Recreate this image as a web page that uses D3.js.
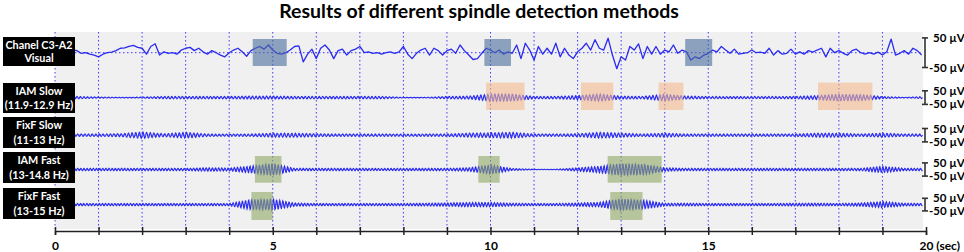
<!DOCTYPE html>
<html>
<head>
<meta charset="utf-8">
<script src="https://cdn.jsdelivr.net/npm/d3@7"></script>
<style>
  body { margin: 0; background: #fff; }
  text { font-family: Lato, "Open Sans", sans-serif; font-weight: bold; }
</style>
</head>
<body>
<div id="chart"></div>
<script>
// row labels (two lines each)
const rowLabels = [
    ["Chanel C3-A2", "Visual"],
    ["IAM Slow", "(11.9-12.9 Hz)"],
    ["FixF Slow", "(11-13 Hz)"],
    ["IAM Fast", "(13-14.8 Hz)"],
    ["FixF Fast", "(13-15 Hz)"]
];
const tickValues = d3.range(0, 21);
const tickLabels = { 0: "0", 5: "5", 10: "10", 15: "15", 20: "20 (sec)" };

// raw EEG, µV, one sample every 0.1 s
const rawStep = 0.1;
const rawEEG = [
    5, 8, 3, 6, 10, 7, -2, 0, -5, -8,
    -14, -5, 0, 2, 7, 15, 16, 21, 25, 18,
    15, -5, 21, 30, -8, 3, -2, 0, -5, 9,
    15, 18, 7, 15, 3, -5, 7, 0, -8, -14,
    0, 9, 15, 3, -12, 7, 15, 21, 12, 26,
    9, -2, -5, 0, 9, 21, 23, -31, -5, 12,
    -20, 15, 26, 9, -20, 7, 12, -8, 7, 12,
    21, 0, 3, -2, 0, -5, 0, 3, -2, 3,
    21, -5, -20, -2, 9, 15, -8, 15, 7, -8,
    7, 12, -2, 26, 7, -8, -23, -20, -2, 15,
    9, 0, 9, -5, 3, -2, 26, -20, 32, 9,
    -25, 21, -5, 15, -5, 32, -14, 15, -8, -20,
    3, 15, 32, 9, 44, 15, 9, 49, -8, -54,
    -14, -25, 21, 9, 30, -20, 21, -5, 21, -5,
    9, 3, 26, -2, 9, 3, -25, -14, -20, -8,
    -2, 9, 3, 21, 9, -2, 12, -5, -2, 0,
    9, 0, 2, -2, 15, -8, 7, -5, -2, 12,
    -5, 3, -5, 7, 2, 9, 15, -14, 15, 0,
    7, -2, -8, 7, 12, 0, -5, 0, -5, 2,
    -8, 3, 46, -8, -2, 7, -5, 15, 7, -8
];

// spindle-band envelopes, µV amplitude every 0.5 s
const envStep = 0.5;
const iamSlowEnv = [9, 9, 4, 2, 4, 9, 9, 9, 9, 11, 11, 9, 9, 9, 9, 9, 2, 2, 9, 11, 26, 26, 9, 9, 15, 26, 11, 9, 24, 11, 8, 8, 8, 8, 9, 15, 24, 22, 8, 2, 8];
const fixfSlowEnv = [9, 9, 9, 11, 24, 11, 22, 9, 8, 9, 15, 15, 11, 9, 9, 9, 8, 9, 9, 15, 18, 22, 9, 9, 11, 22, 15, 9, 15, 9, 9, 9, 9, 9, 9, 15, 15, 9, 15, 9, 9];
const iamFastEnv = [9, 9, 9, 9, 9, 9, 9, 13, 11, 26, 46, 9, 9, 9, 9, 8, 9, 9, 9, 13, 34, 8, 2, 2, 13, 24, 46, 40, 13, 9, 9, 9, 9, 9, 9, 9, 9, 9, 24, 9, 9];
const fixfFastEnv = [9, 9, 9, 9, 9, 9, 9, 9, 9, 40, 44, 13, 9, 9, 9, 9, 9, 11, 13, 17, 17, 11, 9, 9, 13, 18, 46, 36, 11, 11, 9, 9, 9, 9, 11, 11, 9, 13, 24, 11, 9];
const bandFreq = [12.4, 12.0, 13.9, 14.0];

// detected spindles, [start, end] in seconds
const visualMarks = [[4.54, 5.32], [9.86, 10.47], [14.47, 15.09]];
const iamSlowMarks = [[9.90, 10.78], [12.08, 12.82], [13.86, 14.43], [17.52, 18.77]];
const iamFastMarks = [[4.59, 5.20], [9.72, 10.21], [12.69, 13.93]];
const fixfFastMarks = [[4.51, 5.00], [12.75, 13.49]];

const width = 964, height = 252;
const plotLeft = 55, plotRight = 926, plotTop = 32, axisY = 231;
const baselines = [52.7, 97.6, 135.2, 169.5, 204.6];
const halfBar = [14.8, 6.8, 6.7, 6.6, 6.3];

const svg = d3.select("#chart")
    .append("svg")
    .attr("width", width)
    .attr("height", height);

const x = d3.scaleLinear().domain([0, 20]).range([plotLeft, plotRight]);
const ys = baselines.map((b, i) => d3.scaleLinear().domain([-50, 50]).range([b + halfBar[i], b - halfBar[i]]));

svg.append("text")
    .attr("x", 479)
    .attr("y", 18)
    .attr("text-anchor", "middle")
    .style("font-size", "19.5px")
    .text("Results of different spindle detection methods");

// background
svg.append("rect")
    .attr("x", plotLeft)
    .attr("y", plotTop)
    .attr("width", 923 - plotLeft)
    .attr("height", axisY - 2 - plotTop)
    .attr("fill", "#f0f0f0");

// dotted grid
svg.append("g")
    .selectAll("line")
    .data(d3.range(0, 20))
    .join("line")
    .attr("x1", d => x(d))
    .attr("x2", d => x(d))
    .attr("y1", plotTop)
    .attr("y2", axisY - 2)
    .attr("stroke", "#3b3bff")
    .attr("stroke-width", 1)
    .attr("stroke-dasharray", "1.5,2.5");

svg.append("g")
    .selectAll("line")
    .data(baselines)
    .join("line")
    .attr("x1", plotLeft)
    .attr("x2", 923)
    .attr("y1", d => d)
    .attr("y2", d => d)
    .attr("stroke", "#3b3bff")
    .attr("stroke-width", 1)
    .attr("stroke-dasharray", "1.5,2.5");

// traces
const traceColor = "#2b2bf0";

svg.append("path")
    .datum(rawEEG)
    .attr("fill", "none")
    .attr("stroke", traceColor)
    .attr("stroke-width", 1.3)
    .attr("stroke-linejoin", "round")
    .attr("d", d3.line().x((d, i) => x(i * rawStep)).y(d => ys[0](d)));

function envAt(env, t) {
    const k = Math.min(Math.floor(t / envStep), env.length - 2);
    const f = t / envStep - k;
    return env[k] * (1 - f) + env[k + 1] * f;
}

const bands = [iamSlowEnv, fixfSlowEnv, iamFastEnv, fixfFastEnv];
const sampleTimes = d3.range(0, 19.92, 0.01);

bands.forEach((env, i) => {
    const y = ys[i + 1];
    const pts = sampleTimes.map(t => [t, envAt(env, t) * Math.sin(2 * Math.PI * bandFreq[i] * t)]);
    svg.append("path")
        .datum(pts)
        .attr("fill", "none")
        .attr("stroke", traceColor)
        .attr("stroke-width", 1.1)
        .attr("d", d3.line().x(d => x(d[0])).y(d => y(d[1])));
});

// spindle boxes
function marks(data, row, top, bottom, color) {
    svg.append("g")
        .selectAll("rect")
        .data(data)
        .join("rect")
        .attr("x", d => x(d[0]))
        .attr("width", d => x(d[1]) - x(d[0]))
        .attr("y", baselines[row] - top)
        .attr("height", top + bottom)
        .attr("fill", color)
        .attr("opacity", 0.6);
}
marks(visualMarks, 0, 13.7, 13.3, "#4a6c9b");
marks(iamSlowMarks, 1, 15, 12.4, "#f3b98e");
marks(iamFastMarks, 3, 13.5, 13.2, "#8fa862");
marks(fixfFastMarks, 4, 12.6, 15.4, "#8fa862");

// left label boxes
const boxes = [[37, 66], [83, 113], [117, 148], [152, 183], [188, 219]];
const labelG = svg.append("g")
    .selectAll("g")
    .data(rowLabels)
    .join("g");
labelG.append("rect")
    .attr("x", 3)
    .attr("y", (d, i) => boxes[i][0])
    .attr("width", 72)
    .attr("height", (d, i) => boxes[i][1] - boxes[i][0])
    .attr("fill", "#000");
labelG.append("text")
    .attr("x", 39)
    .attr("y", (d, i) => boxes[i][0] + 12)
    .attr("text-anchor", "middle")
    .attr("fill", "#fff")
    .style("font-size", "10.8px")
    .text(d => d[0]);
labelG.append("text")
    .attr("x", 39)
    .attr("y", (d, i) => boxes[i][1] - 4)
    .attr("text-anchor", "middle")
    .attr("fill", "#fff")
    .style("font-size", "10.8px")
    .text(d => d[1]);

// scale bars
const barX = 925;
ys.forEach(y => {
    const g = svg.append("g").attr("stroke", "#333").attr("stroke-width", 1.6);
    g.append("line").attr("x1", barX).attr("x2", barX).attr("y1", y(50)).attr("y2", y(-50));
    g.append("line").attr("x1", barX - 3).attr("x2", barX + 3).attr("y1", y(50)).attr("y2", y(50));
    g.append("line").attr("x1", barX - 3).attr("x2", barX + 3).attr("y1", y(-50)).attr("y2", y(-50));
    svg.append("text")
        .attr("x", 933)
        .attr("y", y(50))
        .attr("dy", "0.35em")
        .style("font-size", "11.5px")
        .text("50 µV");
    svg.append("text")
        .attr("x", 929)
        .attr("y", y(-50))
        .attr("dy", "0.35em")
        .style("font-size", "11.5px")
        .text("-50 µV");
});

// time axis
const axis = svg.append("g")
    .attr("transform", `translate(0,${axisY})`)
    .call(d3.axisBottom(x)
        .tickValues(tickValues)
        .tickSizeOuter(0)
        .tickSize(4)
        .tickFormat(d => tickLabels[d] || ""));
axis.select(".domain").attr("stroke", "#222").attr("stroke-width", 1.5);
axis.selectAll(".tick line").attr("y1", -4).attr("y2", 4).attr("stroke", "#222").attr("stroke-width", 1.5);
axis.selectAll(".tick text")
    .attr("y", 10)
    .attr("fill", "#000")
    .style("font-family", "Lato, sans-serif")
    .style("font-weight", "bold")
    .style("font-size", "12px");
axis.selectAll(".tick text").filter(d => d === 20)
    .attr("text-anchor", "start")
    .attr("dx", -7);
</script>
</body>
</html>
